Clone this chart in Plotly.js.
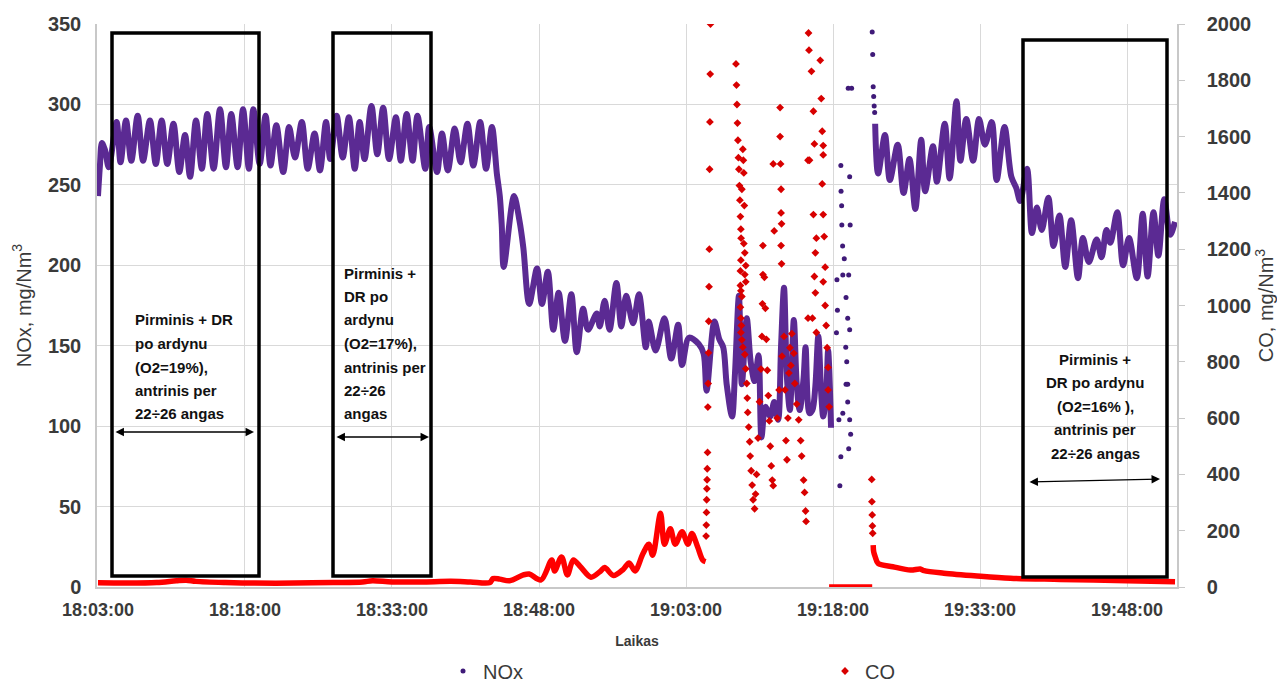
<!DOCTYPE html>
<html><head><meta charset="utf-8">
<script src="https://cdn.plot.ly/plotly-3.0.1.min.js"></script>
<style>body{margin:0;background:#fff}#chart{width:1277px;height:684px}</style>
</head><body><div id="chart"></div>
<script>
// time axis: minutes after 18:03:00
const tickMinutes = [0,15,30,45,60,75,90,105];
const tickLabels = ['18:03:00','18:18:00','18:33:00','18:48:00','19:03:00','19:18:00','19:33:00','19:48:00'];

// NOx, mg/Nm3 — continuous part before the disturbance
const noxT1 = [0,0.2,0.4,0.7,1.1,1.9,2.3,2.86,3.4,4.05,4.6,5.3,5.9,6.5,7.07,7.7,8.3,8.88,9.4,10.0,10.6,11.15,11.8,12.45,13.06,13.6,14.25,14.8,15.4,15.85,16.5,17.1,17.6,18.2,18.9,19.5,20.1,20.8,21.4,22.1,22.65,23.27,23.7,24.35,24.97,25.6,26.2,26.7,27.2,27.9,28.5,29.1,29.7,30.4,30.9,31.5,32.1,32.6,33.4,33.8,34.6,35.1,35.7,36.4,37.0,37.7,38.3,39.0,39.6,40.2,40.7,41.0,41.2,41.4,42.45,43.0,43.4,44.0,44.8,45.3,45.9,46.46,47.0,47.65,48.3,48.85,49.5,50.0,50.9,51.2,51.7,52.2,52.9,53.4,53.9,54.6,55.2,55.9,56.2,56.9,57.8,58.5,59.2,59.6,60.3,61.3,61.8,62.1,62.9,63.4,63.8,64.15,64.7,65.0,65.4,65.7,66.2,66.6,67.0,67.4,67.7,68.1,68.6,69.0,69.4,69.7,70.0,70.3,70.6,71.0,71.3,71.6,72.0,72.2,72.6,72.9,73.2,73.5,73.8,74.0,74.3,74.5,74.8];
const noxV1 = [243,262,276,272,261,289,264,290,265,293,265,290,263,290,263,288,258,281,255,290,260,294,260,297,261,294,261,297,260,297,263,293,262,287,258,286,267,289,260,282,259,289,266,293,267,292,260,289,266,299,269,298,266,292,265,294,265,293,260,286,258,282,259,285,264,288,262,289,260,286,257,243,225,199,243,228,211,176,198,176,196,160,183,153,182,146,173,160,170,162,178,160,189,162,181,164,182,149,165,147,167,142,163,138,155,151,145,122,165,154,149,126,106,133,181,126,167,140,128,144,93,112,106,115,104,150,186,130,110,166,126,110,130,149,108,110,125,156,120,106,120,147,99];
// NOx scattered readings 19:18–19:21
const noxTs = [75.35,75.4,75.45,75.6,75.7,75.8,75.8,75.82,75.88,75.9,75.98,76.0,76.15,76.0,76.33,76.3,76.33,76.5,76.5,76.6,76.6,76.55,76.9,76.7,76.75,76.7,76.5,76.4,76.7,76.8,79.0,79.05,79.1,79.15,79.2,79.25];
const noxVs = [158,191,172,104,63,81,262,246,237,225,212,194,204,108,180,149,126,167,126,194,86,310,310,255,225,104,115,140,160,95,345,331,311,305,299,295];
// NOx continuous part after the disturbance
const noxT2 = [79.3,79.6,80.3,80.8,81.6,82.2,82.8,83.4,84.0,84.4,85.2,85.6,86.4,86.9,87.6,88.0,88.6,89.3,89.9,90.5,91.2,91.7,92.5,93.2,93.7,94.1,94.8,95.3,95.8,96.3,96.97,97.5,98.1,98.7,99.3,100.0,100.5,101.1,101.9,102.4,102.9,103.3,104.0,104.6,105.2,106.0,106.6,107.1,107.7,108.2,108.8,109.4,109.9];
const noxV2 = [288,257,281,253,275,245,266,235,278,246,274,252,288,254,302,265,291,265,291,275,289,253,286,255,248,240,260,220,236,222,242,212,231,199,228,192,217,202,216,205,222,214,233,200,217,192,232,193,233,206,241,219,227];

// CO, mg/Nm3 — continuous part
const coT1 = [0,3,6,8,9,10,13,16,20,24,27,28,30,33,36,38,40,40.3,41,42,43.4,44,45.2,46.3,46.6,47.3,47.9,48.5,49.3,50.3,51.3,51.7,52.6,53.6,54.2,54.8,55.6,56.2,56.6,57.4,57.8,58.4,58.9,59.6,60.2,60.6,61.2,61.7,62.0];
const coV1 = [15,14,16,22,24,20,16,14,14,16,18,22,18,18,20,18,16,30,28,22,43,46,25,96,57,107,43,96,69,35,57,69,41,63,85,57,118,152,113,262,152,207,152,196,152,190,141,96,90];
// CO scattered readings during the disturbance
const coTs = [62.05,62.07,62.09,62.11,62.13,62.15,62.17,62.2,62.23,62.26,62.29,62.32,62.35,62.38,62.41,62.44,62.47,62.5,
  65.1,65.15,65.2,65.25,65.3,65.8,65.35,65.85,65.4,65.9,65.45,65.7,65.5,65.95,65.55,65.6,65.62,65.9,66.0,65.6,66.1,65.55,66.0,66.1,65.55,65.6,65.7,65.55,65.6,65.65,65.6,65.7,65.8,66.0,66.1,
  66.2,66.25,66.3,66.4,66.5,66.55,66.65,66.75,66.85,67.0,
  67.1,67.2,67.35,67.5,67.65,67.75,67.8,67.85,67.85,
  68.0,68.1,68.2,68.3,68.4,68.5,68.6,68.7,68.8,68.9,
  68.9,69.0,69.6,69.6,69.65,69.7,69.7,69.75,69.7,69.75,
  69.3,69.5,69.8,70.0,70.1,70.2,70.3,70.4,70.5,70.6,70.7,70.8,71.0,71.1,71.3,71.5,71.7,71.8,72.0,72.1,72.2,72.25,
  72.5,72.55,72.8,73.0,73.1,72.6,73.0,73.3,73.2,73.1,73.2,73.3,72.9,73.7,73.8,73.9,74.0,74.0,73.9,74.0,74.1,74.2,74.0,74.2,74.3,74.4,74.5,74.5,74.6,72.45,72.45,
  78.95,78.97,79.0,79.02,79.05];
const coVs = [181,220,265,310,349,381,420,478,639,723,832,944,1067,1200,1484,1652,1822,2000,
  1858,1783,1714,1648,1587,1555,1525,1516,1484,1471,1426,1413,1374,1355,1316,1271,1239,1220,1187,1161,1142,1123,1110,1084,1071,1052,1032,994,955,929,904,878,852,826,775,
  723,671,620,568,516,465,413,362,310,278,
  330,400,529,658,774,890,1006,1110,1213,
  1100,990,880,770,680,590,500,430,380,360,
  1503,1265,1703,1600,1503,1413,1329,1290,1213,1148,
  600,700,820,890,700,520,452,600,760,850,787,900,830,723,650,594,520,465,380,336,270,233,
  1968,1907,1832,1690,1574,1516,1323,1239,1187,1103,1045,904,955,1871,1735,1619,1568,1535,1432,1323,1245,1136,1084,1000,929,850,780,700,640,1516,955,
  382,303,256,217,191];
// CO analyser at zero, then decay
const coT2 = [74.6,75.5,76.5,77.5,78.5,79.0];
const coV2 = [0,0,0,0,0,0];
const coT3 = [79.1,79.15,79.3,79.6,81.1,82.9,83.9,84.3,86.3,89.7,93.1,98.2,105.0,109.9];
const coV3 = [149,125,108,84,72,60,64,58,49,39,31,27,22,19];

const box1Lines = ['Pirminis + DR','po ardynu','(O2=19%),','antrinis per','22÷26 angas'];
const box2Lines = ['Pirminis +','DR po','ardynu','(O2=17%),','antrinis per','22÷26','angas'];
const box3Lines = ['Pirminis +','DR po ardynu','(O2=16% ),','antrinis per','22÷26 angas'];

// ---- layout helpers (pixel -> paper) ----
const L = 97, R = 1177, T = 24, B = 587;
const px = x => (x - L) / (R - L);
const py = y => (B - y) / (B - T);

const NOXC = '#5b2a93', NOXM = '#3f1a78', COC = '#ff0000', COM = '#d80000';
const lineNox = {color: NOXC, width: 6, shape: 'spline', smoothing: 0.9};
const lineCo = {color: COC, width: 5.5, shape: 'spline', smoothing: 0.9};

const traces = [
  {x: noxT1, y: noxV1, mode: 'lines', line: lineNox, showlegend: false, legendgroup: 'n', hoverinfo: 'skip'},
  {x: noxT2, y: noxV2, mode: 'lines', line: lineNox, showlegend: false, legendgroup: 'n', hoverinfo: 'skip'},
  {x: noxTs, y: noxVs, mode: 'markers', name: 'NOx', legendgroup: 'n', marker: {color: NOXM, size: 5}},
  {x: coT1, y: coV1, yaxis: 'y2', mode: 'lines', line: lineCo, showlegend: false, legendgroup: 'c'},
  {x: coT2, y: coV2, yaxis: 'y2', mode: 'lines', line: {color: COC, width: 5.5}, showlegend: false, legendgroup: 'c'},
  {x: coT3, y: coV3, yaxis: 'y2', mode: 'lines', line: lineCo, showlegend: false, legendgroup: 'c'},
  {x: coTs, y: coVs, yaxis: 'y2', mode: 'markers', name: 'CO', legendgroup: 'c', marker: {color: COM, size: 6, symbol: 'diamond'}}
];

const tickFont = {family: 'Liberation Sans', size: 20, color: '#3a3a3a', weight: 'bold'};
const shapes = [
  [112, 259, 33, 576], [333, 431, 33, 576], [1023, 1167, 40, 577]
].map(b => ({type: 'rect', xref: 'paper', yref: 'paper', x0: px(b[0]), x1: px(b[1]), y0: py(b[3]), y1: py(b[2]),
  line: {color: '#000', width: 3.5}}));

const annotations = [];
const addLines = (lines, x, y0, anchor) => lines.forEach((t, i) => annotations.push({
  xref: 'paper', yref: 'paper', x: px(x), y: py(y0 + i * 23.5), xanchor: anchor, yanchor: 'middle',
  text: '<b>' + t + '</b>', showarrow: false, font: {family: 'Liberation Sans', size: 15, color: '#111'}}));
addLines(box1Lines, 133, 320, 'left');
addLines(box2Lines, 342, 273, 'left');
addLines(box3Lines, 1095, 359, 'center');
[[254, 432, -140, 0], [429, 437, -94, 0], [1160, 479, -132, 3]].forEach(a => annotations.push({
  xref: 'paper', yref: 'paper', x: px(a[0]), y: py(a[1]), ax: a[2], ay: a[3], text: '', showarrow: true,
  arrowside: 'end+start', arrowhead: 2, startarrowhead: 2, arrowsize: 1.3, startarrowsize: 1.3, arrowwidth: 1.3, arrowcolor: '#000'}));

const layout = {
  width: 1277, height: 684, paper_bgcolor: '#fff', plot_bgcolor: '#fff',
  margin: {l: L, r: 1277 - R, t: T, b: 684 - B, autoexpand: false},
  showlegend: true,
  xaxis: {range: [-0.1, 110.1], tickmode: 'array', tickvals: tickMinutes, ticktext: tickLabels,
    showgrid: true, gridcolor: '#d9d9d9', gridwidth: 1.3, zeroline: false, showline: true, linecolor: '#c8c8c8', linewidth: 1.5,
    ticks: 'outside', ticklen: 6, tickcolor: 'rgba(0,0,0,0)',
    tickfont: {family: 'Liberation Sans', size: 18, color: '#3a3a3a', weight: 'bold'},
    title: {text: '<b>Laikas</b>', font: {family: 'Liberation Sans', size: 14, color: '#3a3a3a'}, standoff: 17}},
  yaxis: {range: [0, 350], tickvals: [0,50,100,150,200,250,300,350], showgrid: true, gridcolor: '#d9d9d9', gridwidth: 1.3,
    zeroline: false, showline: true, linecolor: '#c8c8c8', linewidth: 1.5,
    ticks: 'outside', ticklen: 10, tickcolor: 'rgba(0,0,0,0)', tickfont: tickFont,
    title: {text: 'NOx, mg/Nm<sup>3</sup>', font: {family: 'Liberation Sans', size: 20, color: '#3a3a3a'}, standoff: 11}},
  yaxis2: {range: [0, 2000], tickvals: [0,200,400,600,800,1000,1200,1400,1600,1800,2000], overlaying: 'y', side: 'right',
    showgrid: false, zeroline: false, showline: true, linecolor: '#c8c8c8', linewidth: 1.5,
    ticks: 'outside', ticklen: 6, tickcolor: '#c8c8c8', ticklabelstandoff: 18, tickfont: tickFont,
    title: {text: 'CO, mg/Nm<sup>3</sup>', font: {family: 'Liberation Sans', size: 20, color: '#3a3a3a'}, standoff: 10}},
  legend: {orientation: 'h', x: px(443), xanchor: 'left', y: py(671), yanchor: 'middle',
    entrywidth: 337, entrywidthmode: 'pixels', font: {family: 'Liberation Sans', size: 20, color: '#3a3a3a'}, bgcolor: 'rgba(0,0,0,0)'},
  shapes: shapes, annotations: annotations
};

Plotly.newPlot('chart', traces, layout, {displayModeBar: false, responsive: false});
</script></body></html>
